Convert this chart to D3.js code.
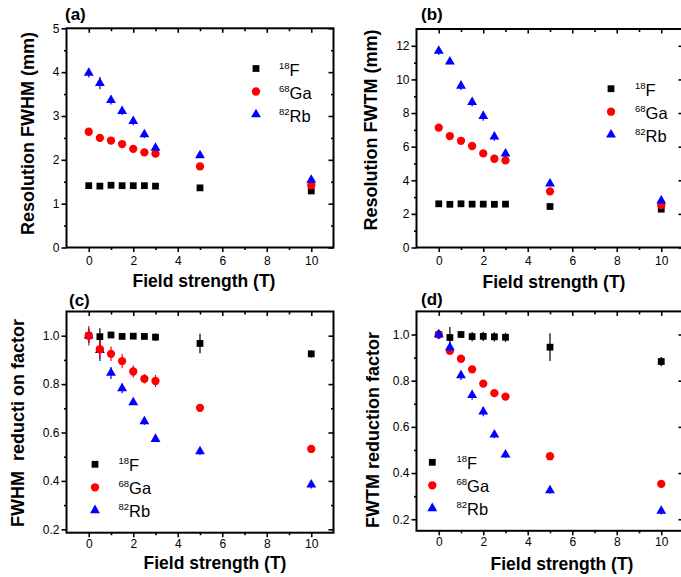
<!DOCTYPE html>
<html>
<head>
<meta charset="utf-8">
<script src="https://cdn.jsdelivr.net/npm/d3@7"></script>
<style>
html,body{margin:0;padding:0;background:#fff;}
svg{display:block;}
text{font-family:"Liberation Sans",Arial,Helvetica,sans-serif;}
</style>
</head>
<body>
<svg id="chart" width="681" height="577"></svg>
<script>
// ---------------- data ----------------
const fields = [0, 0.5, 1, 1.5, 2, 2.5, 3, 5, 10];
const isotopes = [
  {mass: "18", sym: "F"},
  {mass: "68", sym: "Ga"},
  {mass: "82", sym: "Rb"}
];

// (a) Resolution FWHM (mm)
const fwhmF  = [1.41, 1.40, 1.42, 1.41, 1.41, 1.41, 1.40, 1.36, 1.29];
const fwhmGa = [2.64, 2.50, 2.44, 2.36, 2.25, 2.17, 2.14, 1.85, 1.42];
const fwhmRb = [3.98, 3.75, 3.36, 3.11, 2.88, 2.58, 2.27, 2.10, 1.54];
const fwhmFErr  = [0.03, 0.03, 0.03, 0.03, 0.03, 0.03, 0.03, 0.03, 0.03];
const fwhmGaErr = [0.03, 0.03, 0.03, 0.03, 0.03, 0.03, 0.03, 0.03, 0.03];
const fwhmRbErr = [0.10, 0.14, 0.10, 0.09, 0.09, 0.08, 0.06, 0.05, 0.05];

// (b) Resolution FWTM (mm)
const fwtmF  = [2.60, 2.57, 2.60, 2.58, 2.58, 2.57, 2.58, 2.44, 2.28];
const fwtmGa = [7.13, 6.63, 6.35, 6.04, 5.60, 5.28, 5.18, 3.34, 2.52];
const fwtmRb = [11.70, 11.05, 9.62, 8.64, 7.82, 6.60, 5.58, 3.80, 2.78];
const fwtmFErr  = [0.08, 0.08, 0.08, 0.08, 0.08, 0.08, 0.08, 0.08, 0.08];
const fwtmGaErr = [0.08, 0.08, 0.08, 0.08, 0.08, 0.08, 0.08, 0.08, 0.08];
const fwtmRbErr = [0.25, 0.15, 0.25, 0.25, 0.28, 0.25, 0.20, 0.15, 0.10];

// (c) FWHM reduction factor
const redFwhmF  = [1.000, 0.996, 1.003, 0.997, 0.998, 0.997, 0.994, 0.968, 0.925];
const redFwhmGa = [1.000, 0.944, 0.925, 0.895, 0.852, 0.822, 0.813, 0.702, 0.532];
const redFwhmRb = [1.000, 0.940, 0.846, 0.782, 0.724, 0.646, 0.573, 0.522, 0.384];
const redFwhmFErr  = [0.030, 0.035, 0.010, 0.010, 0.010, 0.010, 0.015, 0.040, 0.015];
const redFwhmGaErr = [0.040, 0.040, 0.030, 0.030, 0.025, 0.020, 0.025, 0.015, 0.010];
const redFwhmRbErr = [0.030, 0.045, 0.025, 0.020, 0.010, 0.015, 0.010, 0.015, 0.015];

// (d) FWTM reduction factor
const redFwtmF  = [1.000, 0.987, 1.000, 0.991, 0.992, 0.990, 0.988, 0.945, 0.883];
const redFwtmGa = [1.000, 0.929, 0.895, 0.849, 0.787, 0.746, 0.731, 0.473, 0.353];
const redFwtmRb = [1.000, 0.944, 0.823, 0.737, 0.666, 0.566, 0.480, 0.325, 0.236];
const redFwtmFErr  = [0.020, 0.045, 0.015, 0.020, 0.020, 0.020, 0.020, 0.060, 0.020];
const redFwtmGaErr = [0.020, 0.015, 0.015, 0.015, 0.015, 0.012, 0.010, 0.010, 0.010];
const redFwtmRbErr = [0.020, 0.020, 0.020, 0.020, 0.020, 0.015, 0.015, 0.015, 0.015];

// tick values
const xMajor = [0, 2, 4, 6, 8, 10];
const xMinor = [1, 3, 5, 7, 9];
const yMajorA = [0, 1, 2, 3, 4, 5];
const yMinorA = [0.5, 1.5, 2.5, 3.5, 4.5];
const yMajorB = [0, 2, 4, 6, 8, 10, 12];
const yMinorB = [1, 3, 5, 7, 9, 11];
const yMajorR = [0.2, 0.4, 0.6, 0.8, 1.0];
const yMinorR = [0.3, 0.5, 0.7, 0.9];

// ---------------- styling / layout ----------------
const colors = ["#000000", "#ff0000", "#0000ff"];
const shapes = [d3.symbolSquare, d3.symbolCircle, d3.symbolTriangle];
const sizes = [46, 54, 42];

const panels = [
  {label: "(a)", labelPos: [65, 20], xr: [66.5, 333.5], yd: [0, 5], yr: [247.5, 28.3],
   ytitle: "Resolution FWHM (mm)", ytPos: [27.5, 133.5], xtPos: [204, 287], xlabOff: 17.5,
   yMajor: yMajorA, yMinor: yMinorA, fmt: d3.format("d"),
   series: [[fwhmF, fwhmFErr], [fwhmGa, fwhmGaErr], [fwhmRb, fwhmRbErr]], order: [0, 1, 2],
   legend: [256, 68.5, 279]},
  {label: "(b)", labelPos: [421, 20], xr: [416.5, 683.5], yd: [0, 13], yr: [247.5, 29],
   ytitle: "Resolution FWTM (mm)", ytPos: [370.5, 130], xtPos: [554, 288], xlabOff: 17.5,
   yMajor: yMajorB, yMinor: yMinorB, fmt: d3.format("d"),
   series: [[fwtmF, fwtmFErr], [fwtmGa, fwtmGaErr], [fwtmRb, fwtmRbErr]], order: [0, 1, 2],
   legend: [611, 88.7, 635]},
  {label: "(c)", labelPos: [69, 306], xr: [66.5, 333.5], yd: [0.186, 1.1], yr: [532.7, 311.5],
   ytitle: "FWHM  reducti on factor", ytPos: [17.5, 423], xtPos: [215, 568.5], xlabOff: 16,
   yMajor: yMajorR, yMinor: yMinorR, fmt: d3.format(".1f"),
   series: [[redFwhmF, redFwhmFErr], [redFwhmGa, redFwhmGaErr], [redFwhmRb, redFwhmRbErr]], order: [0, 2, 1],
   legend: [95, 464.3, 118.5]},
  {label: "(d)", labelPos: [421, 305], xr: [416.5, 683.5], yd: [0.15, 1.1], yr: [530.8, 311.4],
   ytitle: "FWTM reduction factor", ytPos: [372.5, 430], xtPos: [562, 570], xlabOff: 16,
   yMajor: yMajorR, yMinor: yMinorR, fmt: d3.format(".1f"),
   series: [[redFwtmF, redFwtmFErr], [redFwtmGa, redFwtmGaErr], [redFwtmRb, redFwtmRbErr]], order: [0, 1, 2],
   legend: [432.3, 462.3, 456.5]}
];

const svg = d3.select("#chart");

panels.forEach(p => {
  const g = svg.append("g");
  const x = d3.scaleLinear().domain([-1, 11]).range(p.xr);
  const y = d3.scaleLinear().domain(p.yd).range(p.yr);
  const [x0, x1] = p.xr, [yb, yt] = p.yr;

  function styleAxis(sel) {
    sel.select(".domain").remove();
    sel.selectAll(".tick line").attr("stroke", "#000").attr("stroke-width", 1.6);
    sel.selectAll(".tick text").attr("font-size", 12).attr("fill", "#000")
      .attr("font-family", "Liberation Sans, Arial, sans-serif");
  }
  g.append("g").attr("transform", `translate(0,${yb})`)
    .call(d3.axisBottom(x).tickValues(xMajor).tickSize(4.5).tickPadding(p.xlabOff - 4.5 - 9).tickFormat(d3.format("d")))
    .call(styleAxis);
  g.append("g").attr("transform", `translate(0,${yb})`)
    .call(d3.axisBottom(x).tickValues(xMinor).tickSize(2.5).tickFormat(""))
    .call(styleAxis);
  g.append("g").attr("transform", `translate(${x0},0)`)
    .call(d3.axisLeft(y).tickValues(p.yMajor).tickSize(5).tickPadding(2).tickFormat(p.fmt))
    .call(styleAxis);
  g.append("g").attr("transform", `translate(${x0},0)`)
    .call(d3.axisLeft(y).tickValues(p.yMinor).tickSize(2.5).tickFormat(""))
    .call(styleAxis);
  g.append("g").attr("transform", `translate(0,${yt})`)
    .call(d3.axisTop(x).tickValues(xMajor).tickSize(-4.5).tickFormat(""))
    .call(styleAxis);
  g.append("g").attr("transform", `translate(0,${yt})`)
    .call(d3.axisTop(x).tickValues(xMinor).tickSize(-3).tickFormat(""))
    .call(styleAxis);
  g.append("g").attr("transform", `translate(${x1},0)`)
    .call(d3.axisRight(y).tickValues(p.yMajor).tickSize(-5).tickFormat(""))
    .call(styleAxis);
  g.append("g").attr("transform", `translate(${x1},0)`)
    .call(d3.axisRight(y).tickValues(p.yMinor).tickSize(-2.5).tickFormat(""))
    .call(styleAxis);

  g.append("rect").attr("x", x0).attr("y", yt).attr("width", x1 - x0).attr("height", yb - yt)
    .attr("fill", "none").attr("stroke", "#000").attr("stroke-width", 2);

  p.order.forEach(si => {
    const [vals, errs] = p.series[si];
    const pts = fields.map((f, i) => ({f, v: vals[i], e: errs[i]}));
    const sg = g.append("g");
    sg.selectAll("line.err").data(pts).join("line").attr("class", "err")
      .attr("x1", d => x(d.f)).attr("x2", d => x(d.f))
      .attr("y1", d => y(d.v - d.e)).attr("y2", d => y(d.v + d.e))
      .attr("stroke", colors[si]).attr("stroke-width", 1.2);
    sg.selectAll("path.pt").data(pts).join("path").attr("class", "pt")
      .attr("transform", d => `translate(${x(d.f)},${y(d.v)})`)
      .attr("d", d3.symbol().type(shapes[si]).size(sizes[si]))
      .attr("fill", colors[si]);
  });

  const [lx, ly, tx] = p.legend;
  isotopes.forEach((iso, i) => {
    const yy = ly + i * 23;
    g.append("path").attr("transform", `translate(${lx},${yy})`)
      .attr("d", d3.symbol().type(shapes[i]).size(sizes[i])).attr("fill", colors[i]);
    const t = g.append("text").attr("x", tx).attr("y", yy + 7).attr("fill", "#000");
    t.append("tspan").attr("font-size", 9.5).attr("dy", -7).text(iso.mass);
    t.append("tspan").attr("font-size", 16.5).attr("dy", 7).text(iso.sym);
  });

  g.append("text").attr("x", p.xtPos[0]).attr("y", p.xtPos[1]).attr("text-anchor", "middle")
    .attr("font-size", 17.5).attr("font-weight", "bold").text("Field strength (T)");
  g.append("text").attr("transform", `translate(${p.ytPos[0]},${p.ytPos[1]}) rotate(-90)`)
    .attr("text-anchor", "middle").attr("dominant-baseline", "central")
    .attr("font-size", 18).attr("font-weight", "bold").style("white-space", "pre").text(p.ytitle);
  g.append("text").attr("x", p.labelPos[0]).attr("y", p.labelPos[1])
    .attr("font-size", 17).attr("font-weight", "bold").text(p.label);
});
</script>
</body>
</html>
